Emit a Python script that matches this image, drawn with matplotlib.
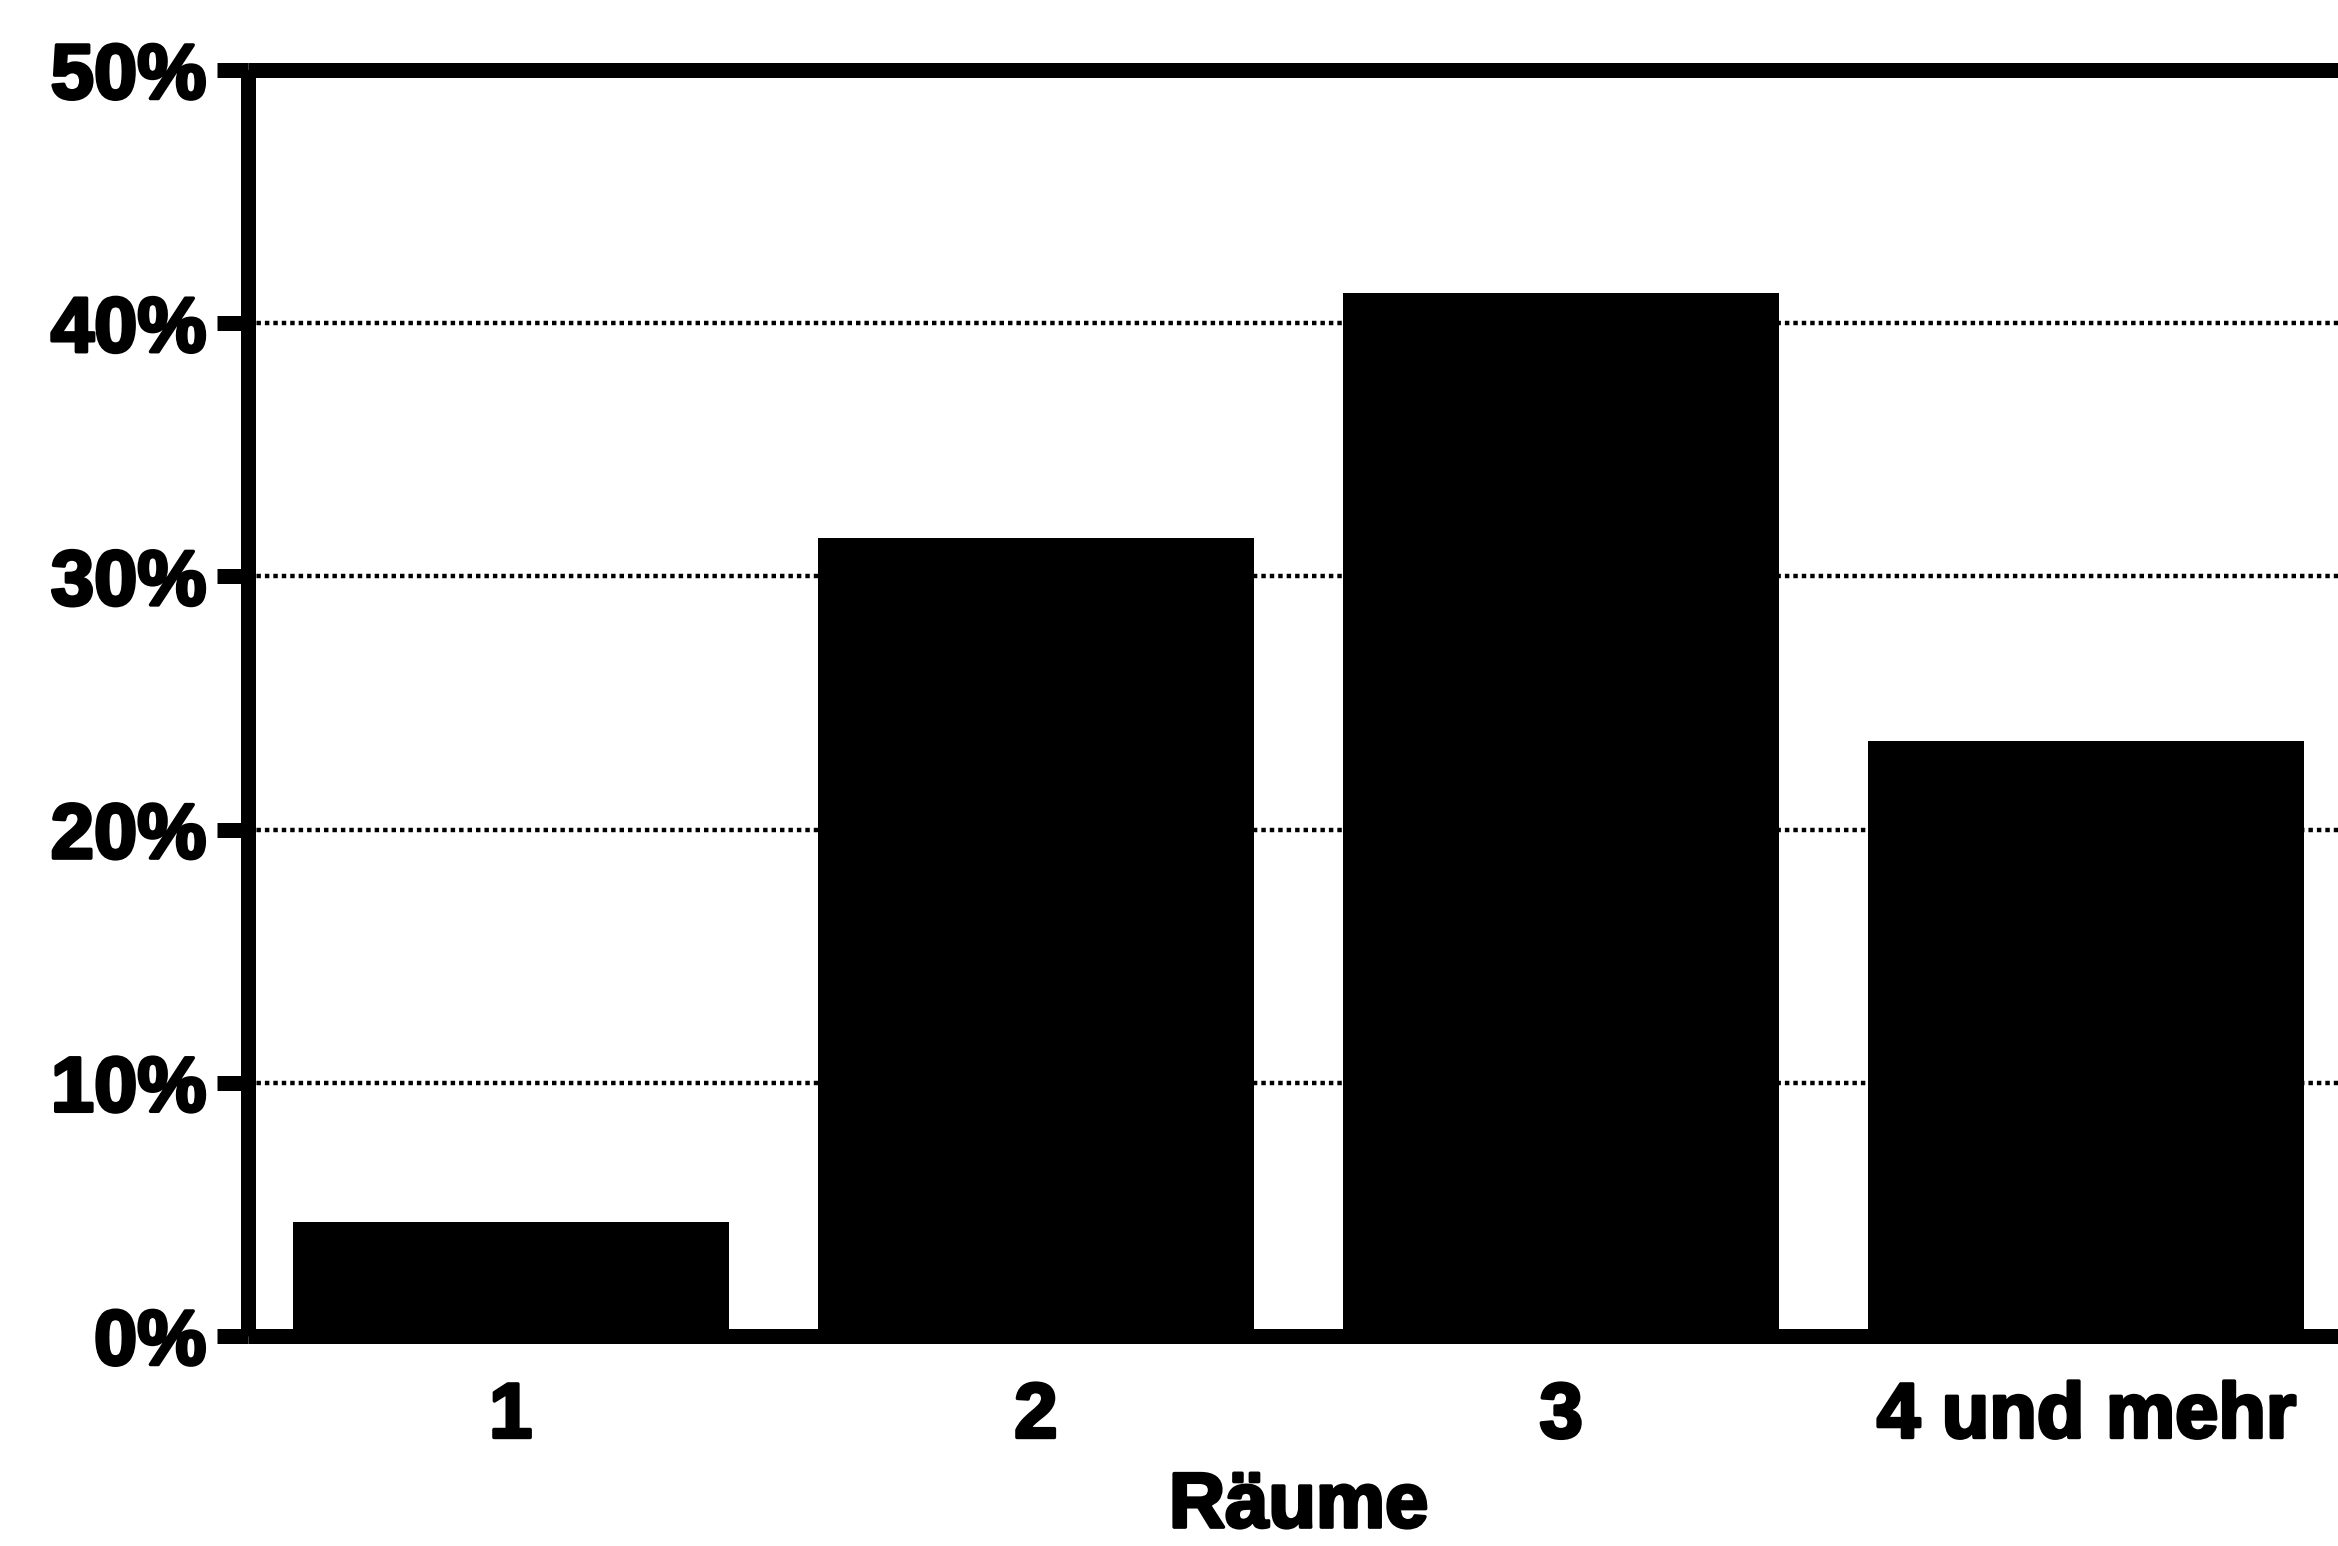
import matplotlib
matplotlib.use("Agg")
import matplotlib.pyplot as plt
import matplotlib.patheffects as pe
from matplotlib.ticker import FuncFormatter

# Anteil der Wohnungen nach Zahl der Räume
categories = ["1", "2", "3", "4 und mehr"]
shares = [4.5, 31.5, 41.2, 23.5]
y_ticks = [0, 10, 20, 30, 40, 50]
x_label = "Räume"

plt.rcParams["font.family"] = ["Liberation Sans", "DejaVu Sans"]
plt.rcParams["font.weight"] = "bold"

W, H = 2338, 1546
fig = plt.figure(figsize=(W / 100, H / 100), dpi=100)
fig.patch.set_facecolor("white")

# axes box in pixel terms: left spine x=248, right edge just past the image, 50% at y=70, 0% at y=1336
left_px, right_px, top_px, bottom_px = 248, 2349, 70, 1336
ax = fig.add_axes([left_px / W, 1 - bottom_px / H,
                   (right_px - left_px) / W, (bottom_px - top_px) / H])

x = list(range(len(categories)))
ax.bar(x, shares, width=0.83, color="black", edgecolor="black",
       linewidth=0, zorder=3)

ax.set_xlim(-0.5, len(categories) - 0.5)
ax.set_ylim(0, 50)
ax.set_yticks(y_ticks)
ax.yaxis.set_major_formatter(FuncFormatter(lambda v, p: f"{v:.0f}%"))
ax.set_xticks(x)
ax.set_xticklabels(categories)

# dotted horizontal gridlines behind the bars
ax.yaxis.grid(True, color="black", linestyle=(0, (1, 0.9)), linewidth=3.2, zorder=1)
ax.xaxis.grid(False)
ax.set_axisbelow(True)

for side in ["left", "top", "bottom", "right"]:
    ax.spines[side].set_linewidth(10.8)
    ax.spines[side].set_color("black")
    ax.spines[side].set_zorder(4)
    ax.spines[side].set_capstyle("butt")

ax.tick_params(axis="y", length=22, width=10.8, color="black",
               labelsize=56, pad=8, direction="out")
ax.tick_params(axis="x", length=0, labelsize=56, pad=32)

# heavy print look for all lettering
ink = [pe.withStroke(linewidth=2.5, foreground="black")]
for lab in ax.get_yticklabels() + ax.get_xticklabels():
    lab.set_fontweight("bold")
    lab.set_path_effects(ink)

xl = ax.set_xlabel(x_label, fontsize=56, fontweight="bold", labelpad=12)
xl.set_path_effects(ink)

fig.savefig("out.png", dpi=100, facecolor="white")
